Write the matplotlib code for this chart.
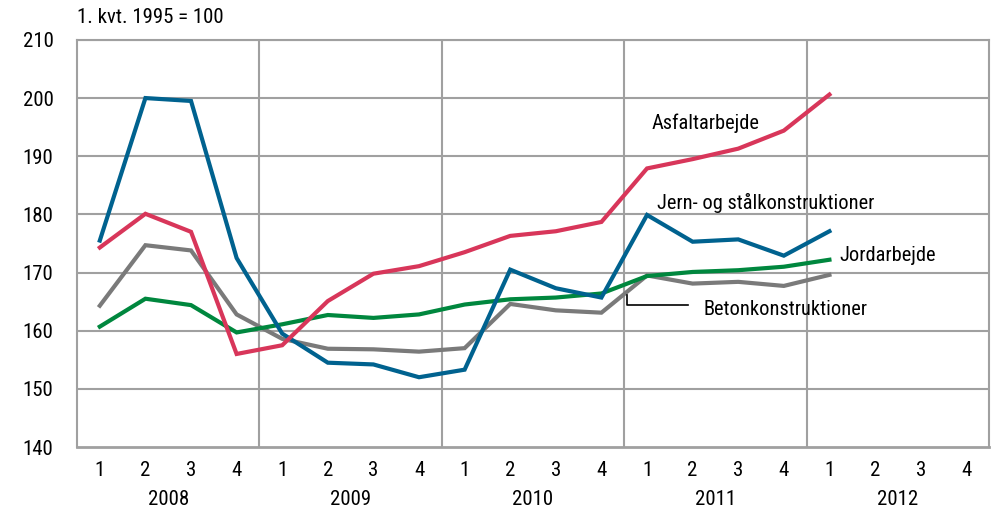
import matplotlib.pyplot as plt
import matplotlib.transforms as mtransforms
import numpy as np

plt.rcParams['font.family'] = ['Roboto Condensed', 'Liberation Sans Narrow', 'DejaVu Sans Condensed',
                               'Roboto', 'DejaVu Sans']

# data: 2008 Q1 .. 2012 Q1, index 1. kvt. 1995 = 100
years = ['2008', '2009', '2010', '2011', '2012']
quarters = ['1', '2', '3', '4']

asfalt = [174.3, 180.1, 177.0, 156.0, 157.5, 165.1, 169.8, 171.1, 173.5,
          176.3, 177.1, 178.7, 187.9, 189.5, 191.3, 194.4, 200.6]
jern = [175.5, 200.0, 199.5, 172.5, 159.5, 154.5, 154.2, 152.0, 153.3,
        170.5, 167.3, 165.7, 179.9, 175.3, 175.7, 172.9, 177.1]
jord = [160.7, 165.5, 164.4, 159.7, 161.1, 162.7, 162.2, 162.8, 164.5,
        165.4, 165.7, 166.4, 169.4, 170.1, 170.4, 171.0, 172.2]
beton = [164.3, 174.7, 173.8, 162.8, 158.6, 156.9, 156.8, 156.4, 157.0,
         164.6, 163.5, 163.1, 169.5, 168.1, 168.4, 167.7, 169.6]

fig = plt.figure(figsize=(9.95, 5.18), dpi=100)
ax = fig.add_axes([0.0774, 0.137, 0.9166, 0.786])

x = np.arange(len(asfalt))
ax.plot(x, beton, color='#7a7a7a', lw=3, solid_joinstyle='miter', zorder=3)
ax.plot(x, jord, color='#00873e', lw=3, solid_joinstyle='miter', zorder=4)
ax.plot(x, jern, color='#00628f', lw=3, solid_joinstyle='miter', zorder=5)
ax.plot(x, asfalt, color='#d8365a', lw=3, solid_joinstyle='miter', zorder=6)

n = len(years) * 4
ax.set_xlim(-0.5, n - 0.5)
ax.set_ylim(140, 210)
ax.set_yticks(np.arange(140, 211, 10))
ax.set_xticks(np.arange(n))
ax.set_xticklabels(quarters * len(years))
ax.tick_params(axis='both', length=0, labelsize=15, colors='black')
ax.tick_params(axis='x', pad=10)
ax.tick_params(axis='y', pad=17)

# grid
for v in np.arange(150, 211, 10):
    ax.axhline(v, color='#a0a0a0', lw=1.5, zorder=1)
for k in range(1, len(years)):
    ax.axvline(4 * k - 0.5, color='#a0a0a0', lw=1.5, zorder=1)
for s in ax.spines.values():
    s.set_color('#a0a0a0')
    s.set_linewidth(1.5)
ax.spines['bottom'].set_linewidth(2)

# year labels
trans = mtransforms.blended_transform_factory(ax.transData, ax.transAxes)
for k, yr in enumerate(years):
    ax.text(4 * k + 1.5, -0.13, yr, transform=trans, ha='center', va='center', fontsize=15)

ax.text(0, 1.055, '1. kvt. 1995 = 100', transform=ax.transAxes, ha='left', va='center', fontsize=15)

# series labels
ax.text(12.11, 195.6, 'Asfaltarbejde', ha='left', va='center', fontsize=14.7)
ax.text(12.22, 181.9, 'Jern- og stålkonstruktioner', ha='left', va='center', fontsize=14.7)
ax.text(16.21, 173.0, 'Jordarbejde', ha='left', va='center', fontsize=14.7)
ax.text(13.23, 163.6, 'Betonkonstruktioner', ha='left', va='center', fontsize=14.7)
ax.plot([11.55, 11.55, 12.89], [166.1, 164.5, 164.5], color='black', lw=1.2, zorder=7)

fig.savefig('out.png', dpi=100)
